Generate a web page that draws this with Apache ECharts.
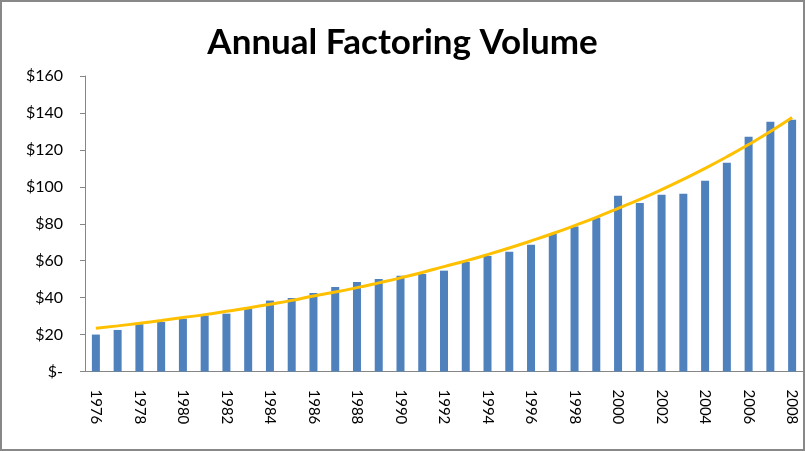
<!DOCTYPE html>
<html><head><meta charset="utf-8">
<script src="https://cdn.jsdelivr.net/npm/echarts@6/dist/echarts.min.js"></script>
<style>html,body{margin:0;padding:0;background:#fff}#c{width:805px;height:451px}</style>
</head><body><div id="c"></div>
<script>
var years = ['1976','1977','1978','1979','1980','1981','1982','1983','1984','1985','1986','1987','1988','1989','1990','1991','1992','1993','1994','1995','1996','1997','1998','1999','2000','2001','2002','2003','2004','2005','2006','2007','2008'];
var volume = [20,22.5,25.6,26.8,28.6,30.3,31.3,34.2,38.4,39.8,42.5,45.8,48.5,50.1,51.8,52.8,54.6,59.3,62.6,64.8,68.6,74.5,78.5,83.2,95.1,91.3,95.7,96.2,103.3,113,127.1,135.2,136.3];
var trend = [23.4,24.7,26.1,27.6,29.2,30.8,32.6,34.4,36.4,38.5,40.9,43.0,45.4,48.0,50.7,53.6,56.8,59.9,63.3,66.9,70.7,74.7,79.0,83.5,88.3,93.2,98.5,104.1,110.0,116.3,122.9,129.9,137.5];
var yTicks = [0,20,40,60,80,100,120,140,160];
var titleText = 'Annual Factoring Volume';

var chart = echarts.init(document.getElementById('c'), null, {renderer:'canvas'});
chart.setOption({
  animation:false,
  backgroundColor:'#fff',
  title:{text:titleText,left:'center',top:20,textStyle:{fontFamily:'Lato',fontWeight:'bold',fontSize:35,color:'#000'}},
  grid:{left:85,right:2,top:76,bottom:79.5},
  xAxis:{type:'category',data:years,
    axisLine:{lineStyle:{color:'#868686',width:1}},
    axisTick:{show:false},
    axisLabel:{interval:1,rotate:-90,margin:18,color:'#000',fontFamily:'Lato',fontSize:15}},
  yAxis:{type:'value',min:yTicks[0],max:yTicks[yTicks.length-1],interval:20,
    splitLine:{show:false},
    axisLine:{show:true,lineStyle:{color:'#868686'}},
    axisTick:{show:true,length:5,lineStyle:{color:'#868686'}},
    axisLabel:{margin:22,color:'#000',fontFamily:'Lato',fontSize:16,
      formatter:function(v){return v===0?'$-':'$'+v;}}},
  series:[
    {type:'bar',data:volume,barWidth:8,itemStyle:{color:'#4F81BD'}},
    {type:'line',data:trend,smooth:true,symbol:'none',lineStyle:{color:'#FFC000',width:3},z:5}
  ],
  graphic:[{type:'rect',shape:{x:1,y:1,width:803,height:449},style:{fill:null,stroke:'#888',lineWidth:2},silent:true}]
});
</script></body></html>
